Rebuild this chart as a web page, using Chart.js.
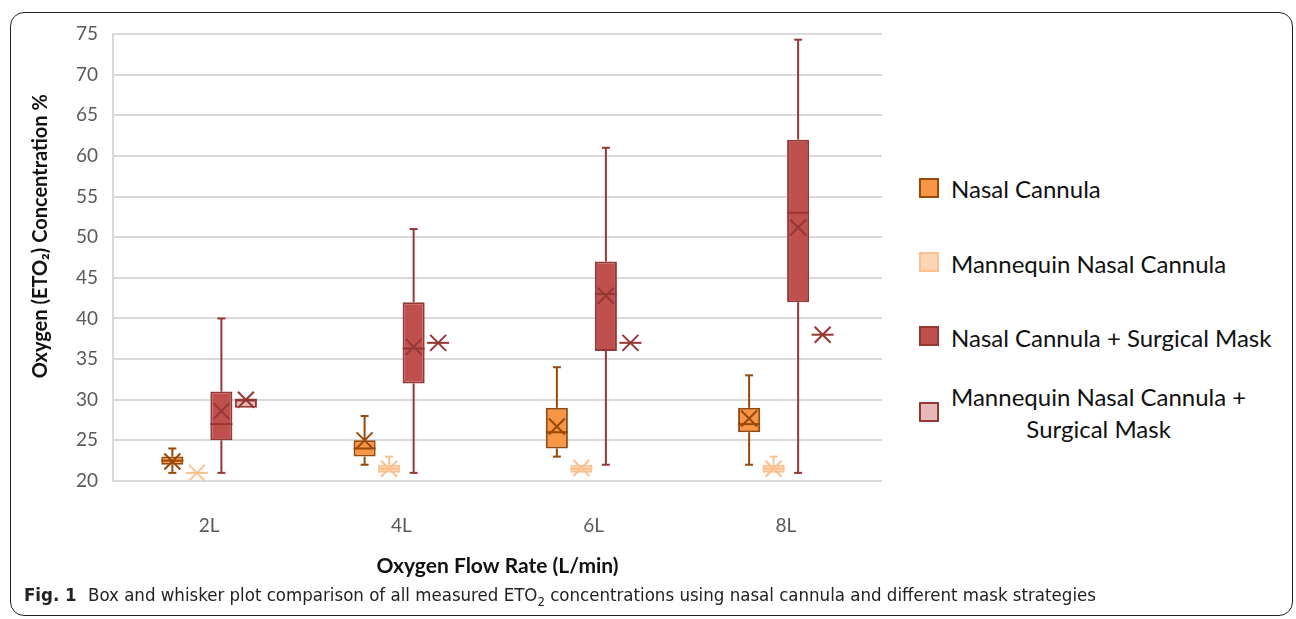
<!DOCTYPE html>
<html>
<head>
<meta charset="utf-8">
<script src="https://cdn.jsdelivr.net/npm/chart.js@4.4.1/dist/chart.umd.min.js"></script>
<style>
  html, body { margin: 0; padding: 0; background: #fff; }
  #page { position: relative; width: 1296px; height: 619px; overflow: hidden; font-family: Lato, "Open Sans", sans-serif; }
  #frame { position: absolute; left: 10px; top: 12px; width: 1281px; height: 602px; border: 1.5px solid #222; border-radius: 14px; pointer-events: none; }
  #chartBox { position: absolute; left: 0; top: 0; width: 900px; height: 619px; }
  .swatch { position: absolute; left: 919px; width: 16px; height: 16px; border: 2px solid; }
  .ltext { position: absolute; left: 951px; font-size: 24px; color: #111; line-height: 32px; white-space: nowrap; }
  #caption { position: absolute; left: 24px; top: 584px; font-family: "Liberation Sans Narrow", "DejaVu Sans Condensed", sans-serif; font-size: 18.5px; color: #222; white-space: nowrap; }
  #caption b { margin-right: 6px; }
</style>
</head>
<body>
<div id="page">
  <div id="chartBox"><canvas id="boxChart"></canvas></div>
  <div id="legend"></div>
  <div id="caption"><b>Fig. 1</b> Box and whisker plot comparison of all measured ETO<sub style="font-size:13px">2</sub> concentrations using nasal cannula and different mask strategies</div>
  <div id="frame"></div>
</div>
<script>
// flow rates on the x axis
const categories = ["2L", "4L", "6L", "8L"]
const seriesLabels = ["Nasal Cannula", "Mannequin Nasal Cannula", "Nasal Cannula + Surgical Mask", "Mannequin Nasal Cannula + Surgical Mask"]
const yTicks = [20, 25, 30, 35, 40, 45, 50, 55, 60, 65, 70, 75]

// Nasal Cannula
const ncMin = [21, 22, 23, 22]
const ncQ1 = [22, 23, 24, 26]
const ncMedian = [22.5, 24, 26, 27]
const ncQ3 = [23, 25, 29, 29]
const ncMax = [24, 28, 34, 33]
const ncMean = [22.4, 25, 26.7, 27.7]

// Mannequin Nasal Cannula
const mncMin = [21, 21, 21, 21]
const mncQ1 = [21, 21, 21, 21]
const mncMedian = [21, 21.5, 21.5, 21.5]
const mncQ3 = [21, 22, 22, 22]
const mncMax = [21, 23, 22, 23]
const mncMean = [21, 21.5, 21.6, 21.5]

// Nasal Cannula + Surgical Mask
const ncsmMin = [21, 21, 22, 21]
const ncsmQ1 = [25, 32, 36, 42]
const ncsmMedian = [27, 36.3, 43, 53]
const ncsmQ3 = [31, 42, 47, 62]
const ncsmMax = [40, 51, 61, 74.3]
const ncsmMean = [28.6, 36.5, 42.8, 51.2]

// Mannequin Nasal Cannula + Surgical Mask
const mncsmMin = [29, 37, 37, 38]
const mncsmQ1 = [29, 37, 37, 38]
const mncsmMedian = [30, 37, 37, 38]
const mncsmQ3 = [30, 37, 37, 38]
const mncsmMax = [30, 37, 37, 38]
const mncsmMean = [30, 37, 37, 38]

const fills = ["#f79646", "#fcd5b5", "#c0504d", "#e6b9b8"]
const borders = ["#984807", "#fac090", "#953735", "#953735"]

const stats = [
  { min: ncMin, q1: ncQ1, med: ncMedian, q3: ncQ3, max: ncMax, mean: ncMean },
  { min: mncMin, q1: mncQ1, med: mncMedian, q3: mncQ3, max: mncMax, mean: mncMean },
  { min: ncsmMin, q1: ncsmQ1, med: ncsmMedian, q3: ncsmQ3, max: ncsmMax, mean: ncsmMean },
  { min: mncsmMin, q1: mncsmQ1, med: mncsmMedian, q3: mncsmQ3, max: mncsmMax, mean: mncsmMean },
]

// whiskers, median line and mean cross on top of the floating bars
const boxExtras = {
  id: "boxExtras",
  afterDatasetsDraw(chart) {
    const ctx = chart.ctx
    const y = chart.scales.y
    ctx.save()
    ctx.lineWidth = 2
    stats.forEach((s, d) => {
      const meta = chart.getDatasetMeta(d)
      ctx.strokeStyle = borders[d]
      meta.data.forEach((bar, i) => {
        const x = bar.x
        const hw = bar.width / 2
        const line = (x1, y1, x2, y2) => {
          ctx.beginPath()
          ctx.moveTo(x1, y1)
          ctx.lineTo(x2, y2)
          ctx.stroke()
        }
        if (s.max[i] > s.q3[i]) {
          line(x, y.getPixelForValue(s.q3[i]), x, y.getPixelForValue(s.max[i]))
          line(x - 4, y.getPixelForValue(s.max[i]), x + 4, y.getPixelForValue(s.max[i]))
        }
        if (s.min[i] < s.q1[i]) {
          line(x, y.getPixelForValue(s.q1[i]), x, y.getPixelForValue(s.min[i]))
          line(x - 4, y.getPixelForValue(s.min[i]), x + 4, y.getPixelForValue(s.min[i]))
        }
        const ym = y.getPixelForValue(s.med[i])
        line(x - hw, ym, x + hw, ym)
        const ya = y.getPixelForValue(s.mean[i])
        line(x - 8, ya - 8, x + 8, ya + 8)
        line(x - 8, ya + 8, x + 8, ya - 8)
      })
    })
    ctx.restore()
  },
}

function buildLegend() {
  const legend = document.getElementById("legend")
  const rows = [
    { top: 178, text: 173 },
    { top: 252, text: 248 },
    { top: 326, text: 322 },
    { top: 402, text: 381 },
  ]
  seriesLabels.forEach((label, i) => {
    const sw = document.createElement("div")
    sw.className = "swatch"
    sw.style.top = rows[i].top + "px"
    sw.style.background = fills[i]
    sw.style.borderColor = borders[i]
    legend.appendChild(sw)
    const t = document.createElement("div")
    t.className = "ltext"
    t.style.top = rows[i].text + "px"
    if (i === 3) {
      t.style.textAlign = "center"
      t.innerHTML = "Mannequin Nasal Cannula +<br>Surgical Mask"
    } else {
      t.textContent = label
    }
    legend.appendChild(t)
  })
}

function initChart() {
  const datasets = stats.map((s, d) => ({
    label: seriesLabels[d],
    data: s.q1.map((v, i) => [v, s.q3[i]]),
    backgroundColor: fills[d],
    borderColor: borders[d],
    borderWidth: 2,
    borderSkipped: false,
    categoryPercentage: 0.51,
    barPercentage: 0.9,
  }))

  new Chart(document.getElementById("boxChart"), {
    type: "bar",
    data: { labels: categories, datasets },
    options: {
      responsive: true,
      maintainAspectRatio: false,
      animation: false,
      layout: { padding: { left: 25, right: 18, top: 34, bottom: 36 } },
      plugins: { legend: { display: false }, tooltip: { enabled: false } },
      scales: {
        x: {
          grid: { display: false },
          border: { display: false },
          ticks: { color: "#595959", font: { family: "Lato", size: 19 }, padding: 25 },
          title: { display: true, text: "Oxygen Flow Rate (L/min)", color: "#111", font: { family: "Lato", size: 21, weight: "bold" }, padding: { top: 4, bottom: 4 } },
          afterFit: (s) => { s.height = 102 },
        },
        y: {
          min: 20,
          max: 75,
          afterBuildTicks: (s) => { s.ticks = yTicks.map((v) => ({ value: v })) },
          grid: { color: "#d9d9d9", lineWidth: 2, drawTicks: false },
          border: { display: true, color: "#d9d9d9", width: 2 },
          ticks: { color: "#595959", font: { family: "Lato", size: 19 }, padding: 15 },
          title: { display: true, text: "\u2002\u2002\u2002\u2002\u2009Oxygen (ETO\u2082) Concentration %", color: "#111", font: { family: "Lato", size: 20, weight: "bold" }, padding: { top: 4, bottom: 4 } },
          afterFit: (s) => { s.width = 88 },
        },
      },
    },
    plugins: [boxExtras],
  })
}

buildLegend()
initChart()
</script>
</body>
</html>
